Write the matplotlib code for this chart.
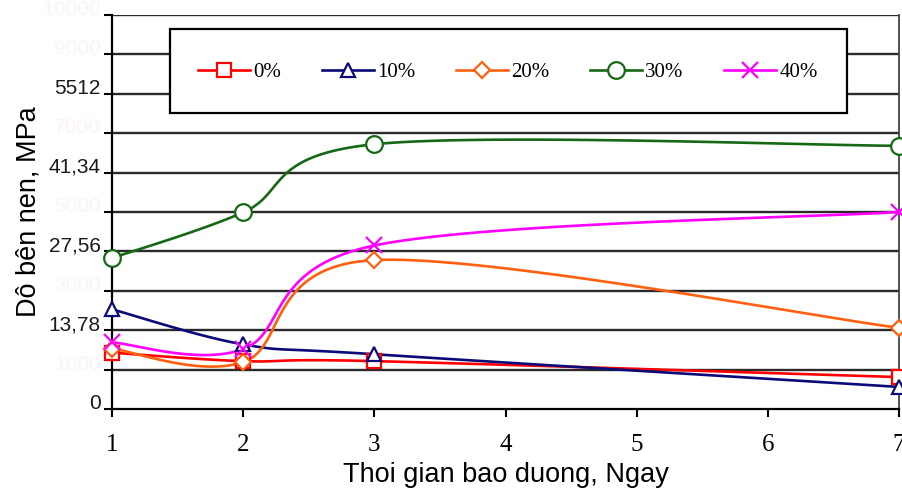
import numpy as np
import matplotlib.pyplot as plt
import matplotlib.patches as patches

# curing days and strength values (read on the original 0-10000 grid)
days = [1, 2, 3, 7]
s0 = [1430, 1215, 1215, 810]
s10 = [2530, 1640, 1390, 560]
s20 = [1530, 1190, 3780, 2060]
s30 = [3830, 4990, 6720, 6680]
s40 = [1690, 1520, 4150, 5000]
series_names = ["0%", "10%", "20%", "30%", "40%"]

yticks = [0, 1000, 2000, 3000, 4000, 5000, 6000, 7000, 8000, 9000, 10000]
ytick_labels = ["0", "1000", "13,78", "3000", "27,56", "5000", "41,34",
                "7000", "5512", "9000", "10000"]
ghost = [False, True, False, True, False, True, False, True, False, True, True]
xticks = [1, 2, 3, 4, 5, 6, 7]


def smooth(xs, ys, n=40):
    # excel style smoothed line (catmull-rom bezier)
    p = np.column_stack([xs, ys]).astype(float)
    out = []
    for i in range(len(p) - 1):
        a = p[i - 1] if i > 0 else p[i]
        b, c = p[i], p[i + 1]
        d = p[i + 2] if i + 2 < len(p) else p[i + 1]
        c1 = b + (c - a) / 6.0
        c2 = c - (d - b) / 6.0
        t = np.linspace(0, 1, n)[:, None]
        seg = ((1 - t) ** 3) * b + 3 * ((1 - t) ** 2) * t * c1 + \
            3 * (1 - t) * t ** 2 * c2 + t ** 3 * c
        out.append(seg if i == 0 else seg[1:])
    out = np.vstack(out)
    return out[:, 0], out[:, 1]


fig = plt.figure(figsize=(9.02, 4.96), dpi=100)
ax = fig.add_axes([112 / 902, 1 - 409 / 496, (899 - 112) / 902, (409 - 15) / 496])

styles = [
    dict(color="#ff0000", marker="s", ms=10),
    dict(color="#0a0a78", marker="^", ms=10),
    dict(color="#ff6010", marker="D", ms=8),
    dict(color="#156915", marker="o", ms=12),
    dict(color="#ff00ff", marker="x", ms=12),
]

for name, vals, st in zip(series_names, [s0, s10, s20, s30, s40], styles):
    sx, sy = smooth(days, vals)
    ax.plot(sx, sy, color=st["color"], lw=1.9, zorder=3, clip_on=False)
    ax.plot(days, vals, ls="none", marker=st["marker"], ms=st["ms"],
            mfc="white", mec=st["color"], mew=1.6, zorder=4, clip_on=False)
    # legend proxy
    ax.plot([], [], color=st["color"], lw=1.9, marker=st["marker"],
            ms=st["ms"], mfc="white", mec=st["color"], mew=1.6, label=name)

ax.set_xlim(1, 7)
ax.set_ylim(0, 10000)
ax.set_xticks(xticks)
ax.set_xticklabels([str(x) for x in xticks], family="Liberation Serif",
                   fontsize=18)
ax.set_yticks(yticks)
ax.set_yticklabels(ytick_labels, family="Liberation Sans", fontsize=15)
for lab, g in zip(ax.get_yticklabels(), ghost):
    lab.set_color("#fbf3fb" if g else "#1a1a1a")
    lab.set_verticalalignment("baseline")

ax.tick_params(axis="y", direction="out", length=6, width=1.5, pad=2)
ax.tick_params(axis="x", direction="out", length=6, width=1.5, pad=12)

for yv in yticks[1:]:
    ax.axhline(yv, color="#2a2a2a", lw=1.7, zorder=1)

for side in ["left", "bottom"]:
    ax.spines[side].set_linewidth(1.6)
    ax.spines[side].set_color("black")
ax.spines["right"].set_color("#444444")
ax.spines["right"].set_linewidth(1.3)
ax.spines["top"].set_visible(False)

ax.set_xlabel("Thoi gian bao duong, Ngay", family="Liberation Sans",
              fontsize=19.5, labelpad=4)
ax.set_ylabel("Dô bên nen, MPa", family="Liberation Sans", fontsize=19.5)
ax.yaxis.set_label_coords(-0.09, 0.5)

# legend box drawn separately so the padding matches
box = patches.Rectangle((170 / 902, 1 - 113 / 496), 677 / 902, 84 / 496,
                        transform=fig.transFigure, facecolor="white",
                        edgecolor="black", linewidth=1.6, zorder=5,
                        clip_on=False)
ax.add_patch(box)

leg = ax.legend(loc="center", ncol=5, bbox_to_anchor=(508 / 902, 1 - 72 / 496),
                bbox_transform=fig.transFigure,
                prop={"family": "Liberation Serif", "size": 15},
                handlelength=2.5, handletextpad=0.15, columnspacing=1.95,
                borderpad=0.1, borderaxespad=0, frameon=False)
leg.set_zorder(6)

fig.savefig("out.png", dpi=100)
